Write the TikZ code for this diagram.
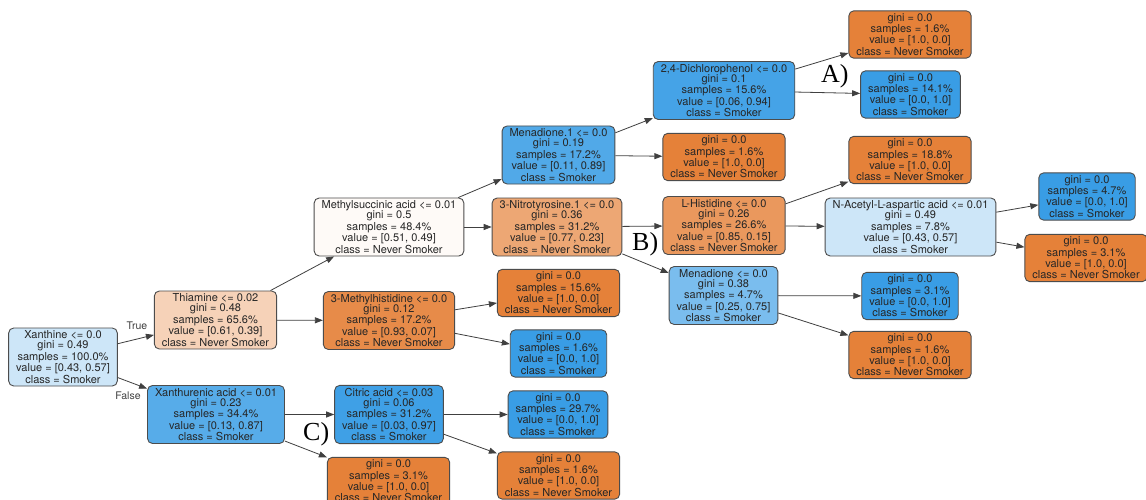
\documentclass[tikz,border=0pt]{standalone}
\usepackage{fontspec}
\setmainfont{TeX Gyre Heros}
\newfontfamily\letterfont{Liberation Serif}
\usepackage{xcolor}
\usetikzlibrary{arrows.meta}

\definecolor{smoker}{HTML}{399DE5}
\definecolor{never}{HTML}{E58139}

\begin{document}
\begin{tikzpicture}[x=1pt, y=-1pt,
    box/.style={draw=black!70, line width=0.9pt, rounded corners=5pt, align=center,
        inner xsep=7.5pt, inner ysep=2.5pt, text=black!85, font=\fontsize{11}{10.4}\selectfont},
    arr/.style={draw=black!75, line width=0.8pt, -{Triangle[length=8pt, width=6pt]}},
    edgelab/.style={text=black!75, font=\fontsize{10.5}{10.5}\selectfont},
    letter/.style={anchor=base west, inner sep=0pt, font=\letterfont\fontsize{26}{26}\selectfont}]
        \useasboundingbox[fill=white] (0,0) rectangle (1146,500);

        % Nodes
        \node[box, fill=smoker!25] (1) at (63,357) {Xanthine <= 0.0\\gini = 0.49\\samples = 100.0\%\\value = [0.43, 0.57]\\class = Smoker};
        \node[box, fill=never!36] (2) at (215.5,320) {Thiamine <= 0.02\\gini = 0.48\\samples = 65.6\%\\value = [0.61, 0.39]\\class = Never Smoker};
        \node[box, fill=smoker!85] (3) at (216,414.5) {Xanthurenic acid <= 0.01\\gini = 0.23\\samples = 34.4\%\\value = [0.13, 0.87]\\class = Smoker};
        \node[box, fill=never!4] (4) at (389,227) {Methylsuccinic acid <= 0.01\\gini = 0.5\\samples = 48.4\%\\value = [0.51, 0.49]\\class = Never Smoker};
        \node[box, fill=never!92] (5) at (389,320.5) {3-Methylhistidine <= 0.0\\gini = 0.12\\samples = 17.2\%\\value = [0.93, 0.07]\\class = Never Smoker};
        \node[box, fill=smoker!97] (6) at (389,414.5) {Citric acid <= 0.03\\gini = 0.06\\samples = 31.2\%\\value = [0.03, 0.97]\\class = Smoker};
        \node[box, fill=never] (7) at (388.5,481) {gini = 0.0\\samples = 3.1\%\\value = [1.0, 0.0]\\class = Never Smoker};
        \node[box, fill=smoker!88] (8) at (558.5,155) {Menadione.1 <= 0.0\\gini = 0.19\\samples = 17.2\%\\value = [0.11, 0.89]\\class = Smoker};
        \node[box, fill=never!70] (9) at (557,227) {3-Nitrotyrosine.1 <= 0.0\\gini = 0.36\\samples = 31.2\%\\value = [0.77, 0.23]\\class = Never Smoker};
        \node[box, fill=never] (10) at (558.5,293) {gini = 0.0\\samples = 15.6\%\\value = [1.0, 0.0]\\class = Never Smoker};
        \node[box, fill=smoker] (11) at (558.5,353.5) {gini = 0.0\\samples = 1.6\%\\value = [0.0, 1.0]\\class = Smoker};
        \node[box, fill=smoker] (12) at (558,414.5) {gini = 0.0\\samples = 29.7\%\\value = [0.0, 1.0]\\class = Smoker};
        \node[box, fill=never] (13) at (558.5,475.5) {gini = 0.0\\samples = 1.6\%\\value = [1.0, 0.0]\\class = Never Smoker};
        \node[box, fill=smoker!94] (14) at (724,90.5) {2,4-Dichlorophenol <= 0.0\\gini = 0.1\\samples = 15.6\%\\value = [0.06, 0.94]\\class = Smoker};
        \node[box, fill=never] (15) at (724,157) {gini = 0.0\\samples = 1.6\%\\value = [1.0, 0.0]\\class = Never Smoker};
        \node[box, fill=never!82] (16) at (724,225.5) {L-Histidine <= 0.0\\gini = 0.26\\samples = 26.6\%\\value = [0.85, 0.15]\\class = Never Smoker};
        \node[box, fill=smoker!67] (17) at (723.5,295.5) {Menadione <= 0.0\\gini = 0.38\\samples = 4.7\%\\value = [0.25, 0.75]\\class = Smoker};
        \node[box, fill=never] (18) at (910,34.5) {gini = 0.0\\samples = 1.6\%\\value = [1.0, 0.0]\\class = Never Smoker};
        \node[box, fill=smoker] (19) at (910.5,94.5) {gini = 0.0\\samples = 14.1\%\\value = [0.0, 1.0]\\class = Smoker};
        \node[box, fill=never] (20) at (910,160) {gini = 0.0\\samples = 18.8\%\\value = [1.0, 0.0]\\class = Never Smoker};
        \node[box, fill=smoker!25] (21) at (910.5,227) {N-Acetyl-L-aspartic acid <= 0.01\\gini = 0.49\\samples = 7.8\%\\value = [0.43, 0.57]\\class = Smoker};
        \node[box, fill=smoker] (22) at (910,296) {gini = 0.0\\samples = 3.1\%\\value = [0.0, 1.0]\\class = Smoker};
        \node[box, fill=never] (23) at (910,355) {gini = 0.0\\samples = 1.6\%\\value = [1.0, 0.0]\\class = Never Smoker};
        \node[box, fill=smoker] (24) at (1087,196.5) {gini = 0.0\\samples = 4.7\%\\value = [0.0, 1.0]\\class = Smoker};
        \node[box, fill=never] (25) at (1086,258) {gini = 0.0\\samples = 3.1\%\\value = [1.0, 0.0]\\class = Never Smoker};

        % Edges
        \draw[arr] (1) -- (2);
        \draw[arr] (1) -- (3);
        \draw[arr] (2) -- (4);
        \draw[arr] (2) -- (5);
        \draw[arr] (3) -- (6);
        \draw[arr] (3) -- (7);
        \draw[arr] (4) -- (8);
        \draw[arr] (4) -- (9);
        \draw[arr] (5) -- (10);
        \draw[arr] (5) -- (11);
        \draw[arr] (6) -- (12);
        \draw[arr] (6) -- (13);
        \draw[arr] (8) -- (14);
        \draw[arr] (8) -- (15);
        \draw[arr] (9) -- (16);
        \draw[arr] (9) -- (17);
        \draw[arr] (14) -- (18);
        \draw[arr] (14) -- (19);
        \draw[arr] (16) -- (20);
        \draw[arr] (16) -- (21);
        \draw[arr] (17) -- (22);
        \draw[arr] (17) -- (23);
        \draw[arr] (21) -- (24);
        \draw[arr] (21) -- (25);

        % Labels
        \node[edgelab] (true) at (137,326) {True};
        \node[edgelab] (false) at (128,396) {False};
        \node[letter] (A) at (821,83) {A)};
        \node[letter] (B) at (632,250) {B)};
        \node[letter] (C) at (303,440) {C)};
    \end{tikzpicture}
\end{document}
